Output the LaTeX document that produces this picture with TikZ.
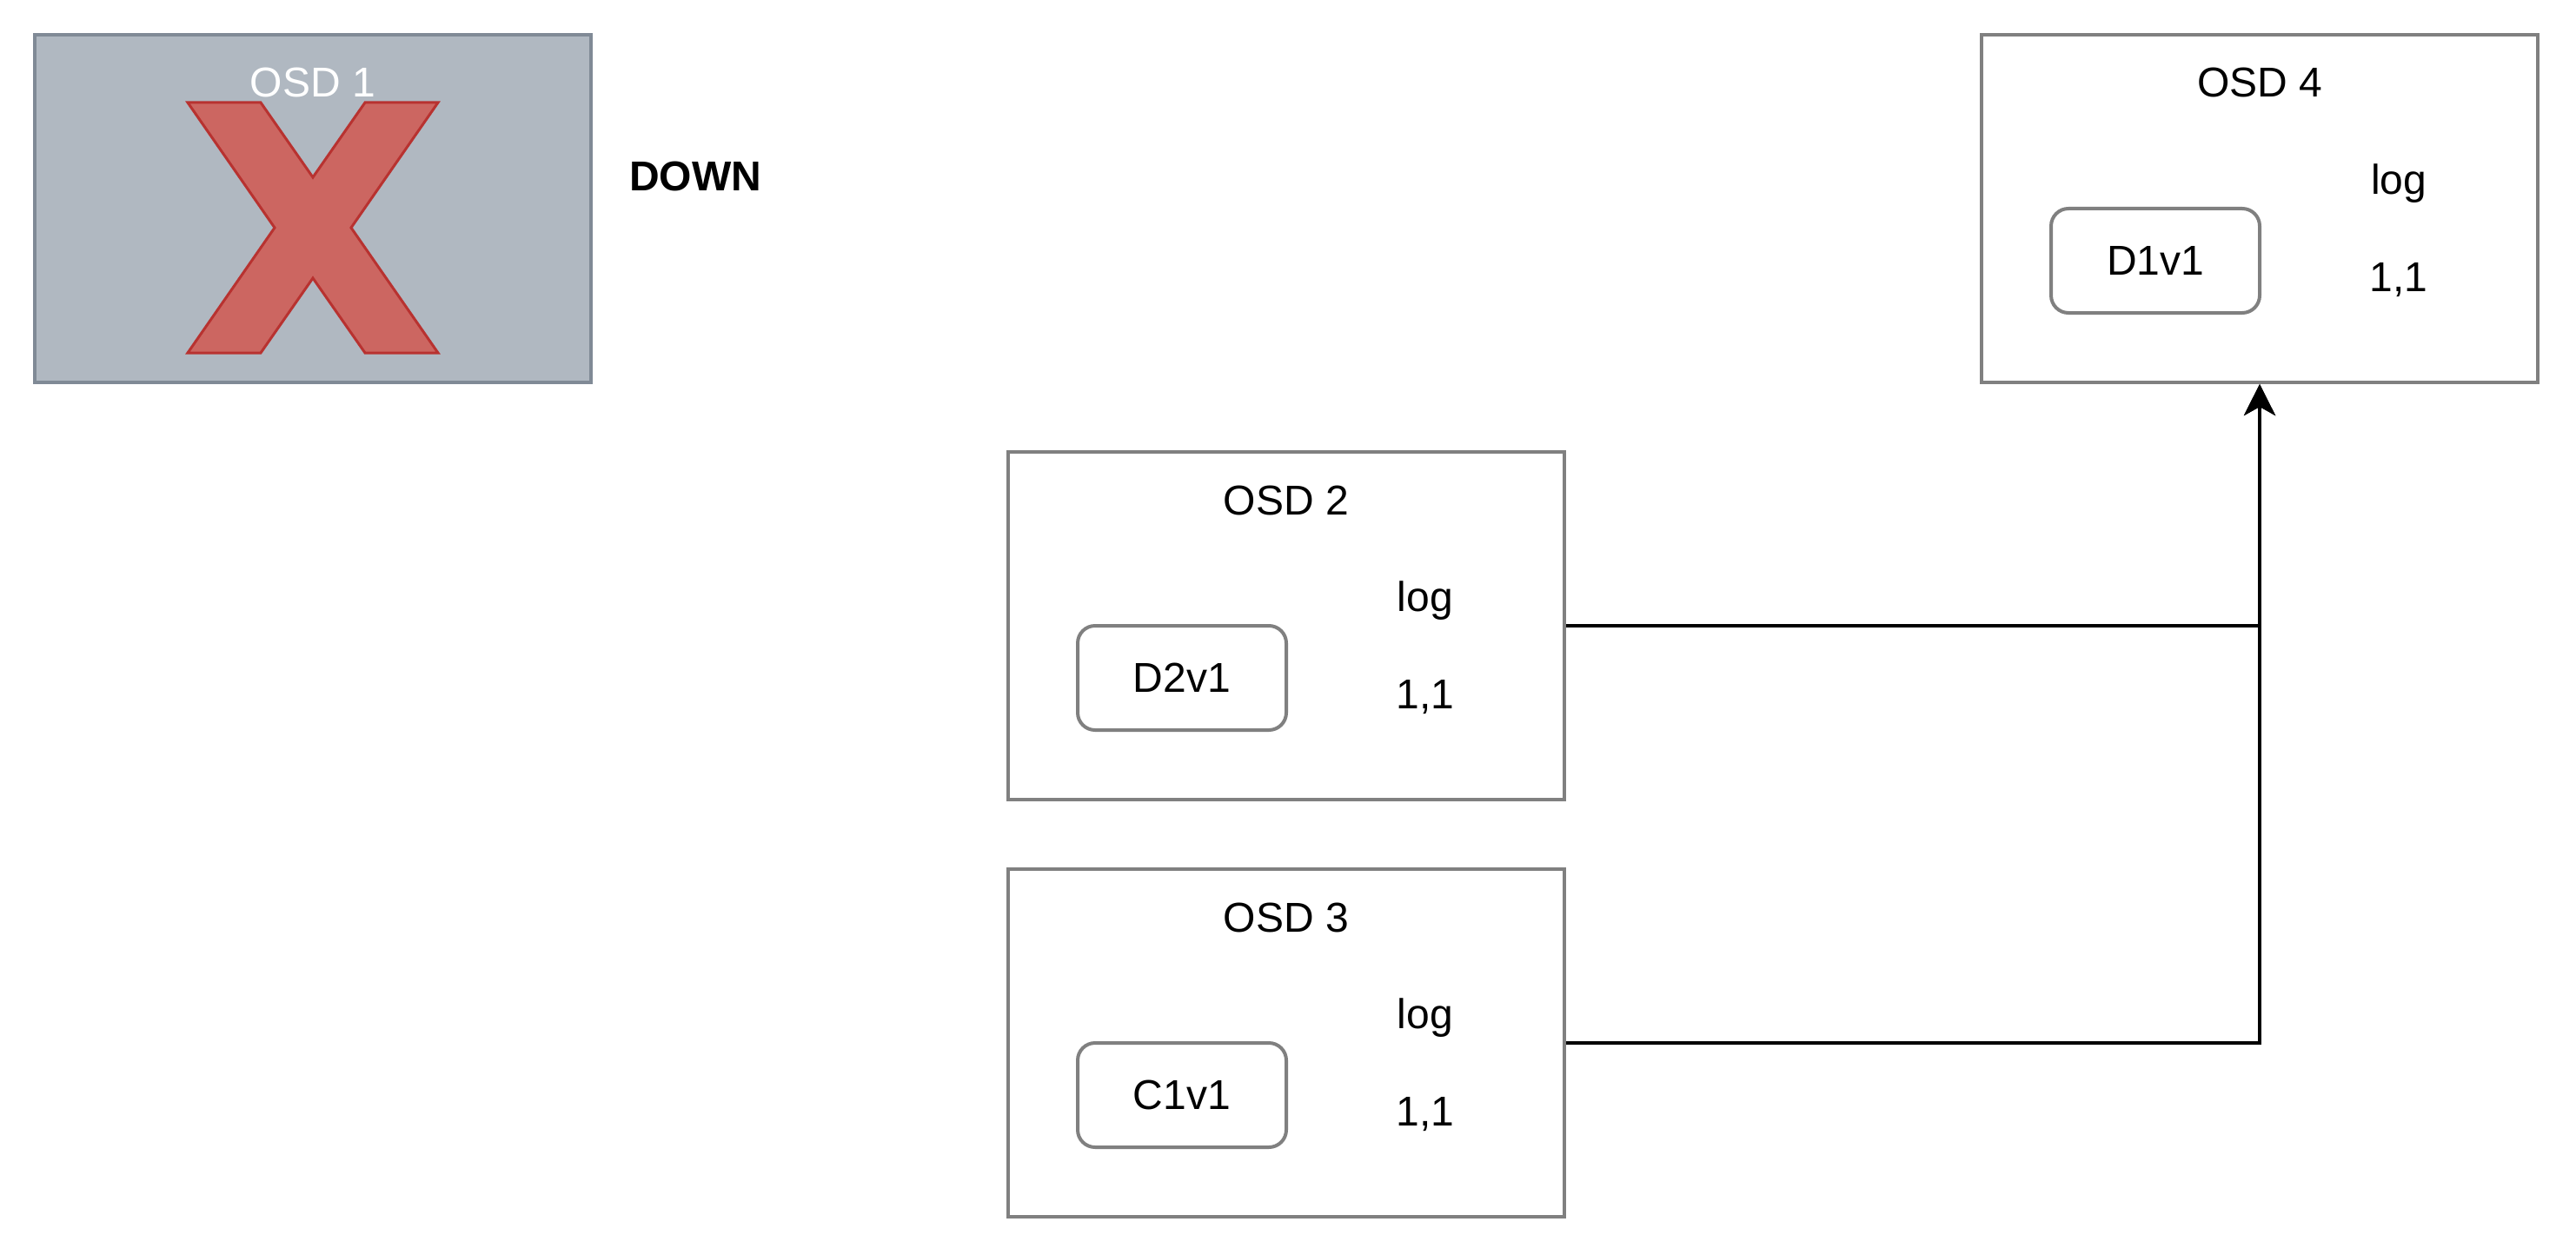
\documentclass[tikz,border=0pt]{standalone}
\usepackage{fontspec}
\setmainfont{Liberation Sans}
\usetikzlibrary{arrows.meta}
\definecolor{boxgray}{RGB}{128,128,128}
\definecolor{downfill}{RGB}{176,184,193}
\definecolor{downline}{RGB}{128,138,150}
\definecolor{xfill}{RGB}{204,102,97}
\definecolor{xline}{RGB}{184,50,48}
\begin{document}
\begin{tikzpicture}[x=1pt,y=-1pt,
  osdbox/.style={draw=boxgray, line width=1pt, minimum width=160pt, minimum height=100pt, inner sep=0pt},
  objbox/.style={draw=boxgray, line width=1pt, rounded corners=5pt, minimum width=60pt, minimum height=30pt, inner sep=0pt, font=\fontsize{12}{14}\selectfont},
  lbl/.style={anchor=base, inner sep=0pt, font=\fontsize{12}{14}\selectfont},
  link/.style={line width=1pt, -{Stealth[length=9pt,width=9pt,inset=2.5pt]}}]
\useasboundingbox (0,0) rectangle (741,361);

% OSD 1 (down)
\node[osdbox, fill=downfill, draw=downline] (osd1) at (90,60) {};
\draw[fill=xfill, draw=xline, line width=0.75pt, line join=miter]
  (54,29.5) -- (75,29.5) -- (90,51) -- (105,29.5) -- (126,29.5) -- (101,65.5)
  -- (126,101.5) -- (105,101.5) -- (90,80) -- (75,101.5) -- (54,101.5) -- (79,65.5) -- cycle;
\node[lbl, text=white] (t1) at (90,28) {OSD 1};
\node[lbl, font=\fontsize{12}{14}\selectfont\bfseries] (down) at (200,54.8) {DOWN};

% OSD 4
\node[osdbox] (osd4) at (650,60) {};
\node[lbl] (t4) at (650,28) {OSD 4};
\node[objbox] (d1v1) at (620,75) {D1v1};
\node[lbl] (log4) at (690,55.8) {log};
\node[lbl] (v4) at (690,83.75) {1,1};

% OSD 2
\node[osdbox] (osd2) at (370,180) {};
\node[lbl] (t2) at (370,148) {OSD 2};
\node[objbox] (d2v1) at (340,195) {D2v1};
\node[lbl] (log2) at (410,175.8) {log};
\node[lbl] (v2) at (410,203.75) {1,1};

% OSD 3
\node[osdbox] (osd3) at (370,300) {};
\node[lbl] (t3) at (370,268) {OSD 3};
\node[objbox] (c1v1) at (340,315) {C1v1};
\node[lbl] (log3) at (410,295.8) {log};
\node[lbl] (v3) at (410,323.75) {1,1};

% connectors
\draw[link] (osd2.east) -| (osd4.south);
\draw[link] (osd3.east) -| (osd4.south);
\end{tikzpicture}
\end{document}
